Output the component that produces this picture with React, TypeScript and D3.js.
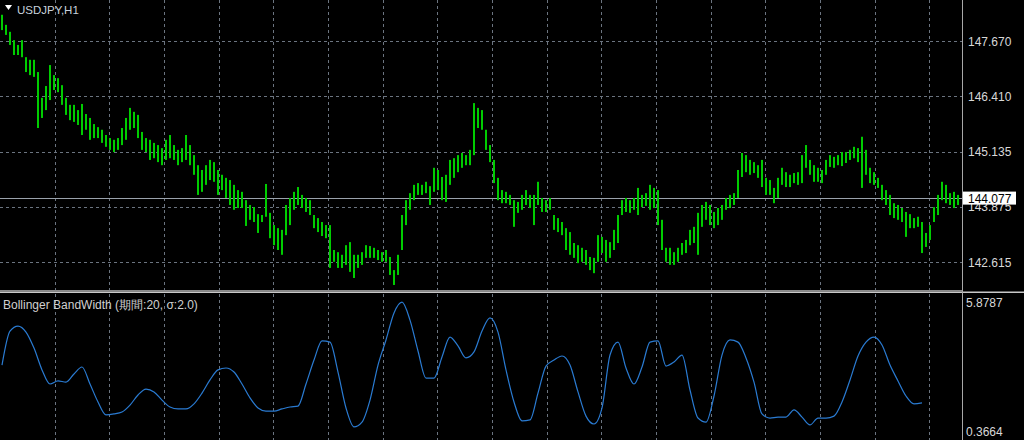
import React from "react";
import * as d3 from "d3";

// ---- Data (USDJPY H1) ----
const highs: number[] = [
  148.27, 148.04, 147.88, 147.69, 147.58, 147.69, 147.30, 147.24, 147.24, 146.96,
  146.37, 146.64, 147.12, 146.89, 146.82, 146.66, 146.37, 146.21, 146.21, 146.09,
  146.23, 146.00, 145.91, 145.77, 145.70, 145.64, 145.52, 145.45, 145.41, 145.45,
  145.68, 145.91, 146.14, 146.05, 145.98, 145.59, 145.45, 145.41, 145.34, 145.29,
  145.22, 145.41, 145.52, 145.29, 145.18, 145.22, 145.52, 145.29, 145.06, 144.83,
  144.72, 144.83, 144.95, 144.90, 144.72, 144.61, 144.54, 144.49, 144.38, 144.26,
  144.22, 144.03, 143.92, 143.87, 143.71, 143.69, 144.40, 143.74, 143.46, 143.39,
  143.35, 143.92, 144.08, 144.22, 144.33, 144.15, 144.08, 144.03, 143.69, 143.62,
  143.53, 143.46, 143.46, 142.89, 142.84, 142.78, 143.00, 143.07, 142.78, 142.78,
  142.84, 143.00, 142.98, 142.94, 142.89, 142.84, 142.89, 142.73, 142.43, 142.78,
  143.69, 144.03, 144.19, 144.38, 144.42, 144.38, 144.45, 144.35, 144.77, 144.72,
  144.56, 144.61, 144.95, 144.99, 145.06, 145.11, 145.06, 145.18, 146.25, 146.14,
  146.09, 145.64, 145.29, 144.95, 144.54, 144.26, 144.22, 144.15, 144.03, 143.99,
  144.15, 144.26, 144.15, 144.15, 144.45, 144.08, 144.03, 144.08, 143.69, 143.62,
  143.53, 143.39, 143.30, 143.05, 143.00, 142.94, 142.89, 142.73, 142.71, 143.23,
  143.19, 143.12, 143.07, 143.35, 143.69, 144.03, 144.08, 144.03, 144.08, 144.31,
  144.15, 144.19, 144.38, 144.31, 144.26, 143.58, 142.94, 142.94, 142.84, 142.94,
  143.05, 143.12, 143.35, 143.42, 143.74, 143.92, 143.99, 143.92, 143.76, 143.85,
  143.92, 144.08, 144.15, 144.19, 144.72, 145.11, 145.06, 144.95, 144.90, 144.83,
  144.95, 144.54, 144.49, 144.31, 144.54, 144.77, 144.67, 144.61, 144.65, 144.67,
  145.06, 145.29, 144.95, 144.83, 144.77, 144.72, 144.95, 145.06, 145.02, 145.06,
  145.13, 145.13, 145.18, 145.25, 145.22, 145.48, 145.18, 144.77, 144.67, 144.54,
  144.38, 144.26, 144.15, 143.96, 143.92, 143.85, 143.76, 143.71, 143.62, 143.65,
  143.53, 143.28, 143.46, 143.87, 144.15, 144.45, 144.38, 144.19, 144.22, 144.15,
];
const lows: number[] = [
  147.92, 147.81, 147.58, 147.35, 147.35, 147.30, 146.96, 146.89, 146.85, 145.68,
  145.91, 146.09, 146.32, 146.55, 146.50, 146.21, 145.98, 145.86, 145.82, 145.75,
  145.52, 145.64, 145.41, 145.45, 145.45, 145.34, 145.25, 145.18, 145.13, 145.18,
  145.29, 145.41, 145.64, 145.68, 145.45, 145.18, 145.13, 144.95, 144.99, 144.90,
  144.83, 144.95, 144.99, 144.95, 144.83, 144.90, 144.95, 144.83, 144.61, 144.15,
  144.22, 144.38, 144.49, 144.45, 144.15, 144.26, 144.08, 143.92, 143.81, 143.85,
  143.85, 143.44, 143.58, 143.53, 143.28, 143.53, 143.65, 143.16, 143.00, 142.89,
  142.78, 143.23, 143.46, 143.81, 143.92, 143.85, 143.76, 143.69, 143.39, 143.30,
  143.21, 143.16, 142.48, 142.62, 142.48, 142.48, 142.55, 142.39, 142.25, 142.48,
  142.55, 142.71, 142.71, 142.71, 142.66, 142.62, 142.62, 142.32, 142.09, 142.32,
  142.89, 143.46, 143.81, 144.03, 144.15, 144.15, 144.19, 143.92, 144.22, 144.26,
  144.03, 143.99, 144.38, 144.54, 144.67, 144.77, 144.83, 144.83, 145.06, 145.68,
  145.64, 145.18, 144.90, 144.42, 144.03, 143.96, 143.96, 143.92, 143.42, 143.74,
  143.81, 143.92, 143.85, 143.46, 143.92, 143.76, 143.76, 143.81, 143.35, 143.30,
  143.23, 142.89, 142.78, 142.71, 142.59, 142.62, 142.55, 142.43, 142.36, 142.62,
  142.82, 142.62, 142.71, 142.89, 143.05, 143.69, 143.76, 143.74, 143.81, 143.69,
  143.87, 143.90, 143.81, 143.85, 143.46, 142.89, 142.62, 142.55, 142.55, 142.62,
  142.78, 142.82, 143.00, 143.05, 142.78, 143.42, 143.58, 143.46, 143.39, 143.46,
  143.58, 143.81, 143.85, 143.92, 144.08, 144.56, 144.67, 144.61, 144.65, 144.54,
  144.33, 144.15, 144.15, 143.96, 144.08, 144.38, 144.33, 144.33, 144.42, 144.38,
  144.42, 144.77, 144.61, 144.45, 144.45, 144.42, 144.61, 144.79, 144.77, 144.83,
  144.81, 144.88, 144.95, 144.99, 144.90, 144.31, 144.61, 144.42, 144.38, 144.31,
  144.03, 143.92, 143.69, 143.62, 143.58, 143.53, 143.19, 143.39, 143.39, 143.42,
  142.82, 142.96, 143.12, 143.53, 143.69, 144.03, 143.96, 143.92, 143.85, 143.92,
];
// Bollinger BandWidth, one value every 2 bars
const bandWidth: number[] = [
  3.16, 4.58, 4.79, 4.54, 3.87, 2.96, 2.37, 2.50, 2.45, 2.79,
  3.08, 2.37, 1.62, 1.08, 1.12, 1.20, 1.49, 1.91, 2.16, 2.04,
  1.70, 1.41, 1.33, 1.33, 1.54, 1.99, 2.54, 2.96, 3.04, 2.87,
  2.37, 1.79, 1.37, 1.24, 1.24, 1.33, 1.41, 1.45, 2.37, 3.37,
  4.17, 4.12, 2.87, 1.37, 0.58, 0.78, 1.70, 3.16, 4.21, 5.34,
  5.79, 5.04, 3.75, 2.62, 2.62, 3.50, 4.33, 3.96, 3.46, 3.71,
  4.58, 5.13, 4.54, 2.96, 1.62, 0.83, 0.87, 1.99, 3.12, 3.37,
  3.54, 3.16, 2.04, 1.03, 0.70, 1.37, 3.58, 4.12, 3.04, 2.37,
  3.08, 4.12, 4.17, 3.12, 3.29, 3.58, 2.12, 0.95, 0.78, 1.87,
  3.58, 4.21, 4.12, 3.46, 2.45, 1.12, 0.95, 0.99, 0.99, 1.29,
  0.99, 0.66, 0.95, 0.95, 1.03, 1.62, 2.54, 3.54, 4.12, 4.33,
  4.00, 3.16, 2.50, 1.87, 1.54, 1.58,
];
const priceTicks: number[] = [147.67, 146.41, 145.135, 143.875, 142.615];
const priceTickLabels: string[] = ["147.670", "146.410", "145.135", "143.875", "142.615"];
const lastPrice = 144.077;
const bwMax = 5.8787;
const bwMin = 0.3664;
const symbolTitle = "USDJPY,H1";
const indicatorTitle = "Bollinger BandWidth (期間:20, σ:2.0)";

const W = 1024;
const H = 440;
const plotRight = 962;
const mainTop = 0;
const mainBottom = 290;
const FONT = "'Liberation Sans', Arial, sans-serif";

export default function App() {
  const n = highs.length;
  const x = d3.scaleLinear().domain([0, n - 1]).range([2, 958]);
  const y = d3.scaleLinear().domain([141.975, 148.608]).range([mainBottom, mainTop]);
  const yb = d3.scaleLinear().domain([bwMin, bwMax]).range([432, 300]);
  const vGrid = d3.range(1, 18).map((k) => k * 54.67);

  const bwLine = d3
    .line<number>()
    .x((_, i) => x(i * 2))
    .y((v) => yb(v))
    .curve(d3.curveMonotoneX);

  const gridColor = "#6b7480";
  const axisText = "#d8d8d8";

  return (
    <svg
      width={W}
      height={H}
      style={{ position: "absolute", left: 0, top: 0, background: "#000" }}
    >
      <rect x={0} y={0} width={W} height={H} fill="#000" />
      {vGrid.map((gx, i) => (
        <line
          key={"vg" + i}
          x1={Math.round(gx) + 0.5}
          x2={Math.round(gx) + 0.5}
          y1={0}
          y2={H}
          stroke={gridColor}
          strokeDasharray="3,3"
        />
      ))}
      {priceTicks.map((p, i) => (
        <line
          key={"hg" + i}
          x1={0}
          x2={plotRight + 4}
          y1={Math.round(y(p)) + 0.5}
          y2={Math.round(y(p)) + 0.5}
          stroke={gridColor}
          strokeDasharray="3,3"
        />
      ))}
      <line
        x1={0}
        x2={plotRight}
        y1={Math.round(y(lastPrice)) + 0.5}
        y2={Math.round(y(lastPrice)) + 0.5}
        stroke="#9aa2ac"
        strokeWidth={1}
      />
      {highs.map((h, i) => (
        <rect
          key={"b" + i}
          x={x(i) - 1}
          y={y(h)}
          width={2}
          height={Math.max(1, y(lows[i]) - y(h))}
          fill="#00cc00"
        />
      ))}
      <path d={bwLine(bandWidth) || ""} fill="none" stroke="#2a7bd2" strokeWidth={1.2} />

      <rect x={0} y={290} width={plotRight} height={1.5} fill="#8a8a8a" />
      <rect x={0} y={291.5} width={W} height={1.5} fill="#c8c8c8" />
      <line x1={plotRight + 0.5} x2={plotRight + 0.5} y1={0} y2={H} stroke="#a8a8a8" />

      {priceTicks.map((p, i) => (
        <text
          key={"pl" + i}
          x={968}
          y={y(p) + 4.5}
          fill={axisText}
          fontSize={12}
          fontFamily={FONT}
        >
          {priceTickLabels[i]}
        </text>
      ))}
      <rect x={963} y={y(lastPrice) - 6.5} width={53} height={13} fill="#fff" />
      <text x={968} y={y(lastPrice) + 4.5} fill="#000" fontSize={12} fontFamily={FONT}>
        {lastPrice.toFixed(3)}
      </text>

      <text x={966} y={307} fill={axisText} fontSize={12} fontFamily={FONT}>
        {bwMax.toFixed(4)}
      </text>
      <text x={966} y={436} fill={axisText} fontSize={12} fontFamily={FONT}>
        {bwMin.toFixed(4)}
      </text>

      <path d="M5,5 L12,5 L8.5,10 Z" fill="#fff" />
      <text x={17} y={14} fill="#c8d2dc" fontSize={11.5} fontFamily={FONT}>
        {symbolTitle}
      </text>
      <text x={3} y={309} fill="#d0d0d0" fontSize={12} fontFamily={FONT}>
        {indicatorTitle}
      </text>
    </svg>
  );
}
